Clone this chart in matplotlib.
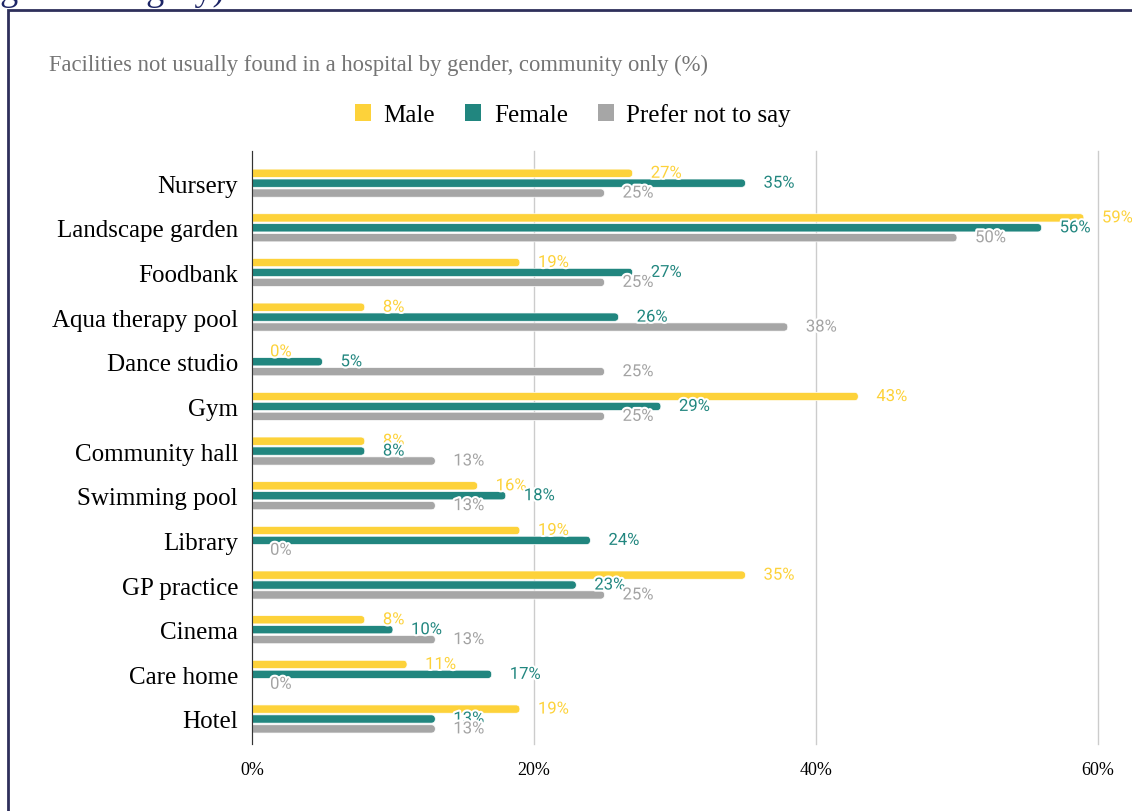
import numpy as np
import matplotlib
matplotlib.use("Agg")
from matplotlib import pyplot as plt
from matplotlib.patches import Patch, Rectangle, FancyBboxPatch
import matplotlib.patheffects as pe

# facilities, top to bottom
facilities = ["Nursery", "Landscape garden", "Foodbank", "Aqua therapy pool",
              "Dance studio", "Gym", "Community hall", "Swimming pool",
              "Library", "GP practice", "Cinema", "Care home", "Hotel"]

# share of respondents (%) per gender
male = [27, 59, 19, 8, 0, 43, 8, 16, 19, 35, 8, 11, 19]
female = [35, 56, 27, 26, 5, 29, 8, 18, 24, 23, 10, 17, 13]
no_say = [25, 50, 25, 38, 25, 25, 13, 13, 0, 25, 13, 0, 13]

series_names = ["Male", "Female", "Prefer not to say"]
bar_colors = ["#fdd23a", "#21867f", "#a6a6a6"]
text_colors = ["#fdd23a", "#21867f", "#a3a3a3"]
xticks = [0, 20, 40, 60]

W, H = 1132, 812
fig = plt.figure(figsize=(W / 100, H / 100), dpi=100)

serif = "Liberation Serif"

# cut-off heading above the box
fig.text(-28 / W, 1.0, "ing and category)", family=serif, fontsize=26,
         color="#1d2566", va="baseline", ha="left")

# frame round the chart
fig.patches.append(Rectangle((8 / W, -0.05), 1.2, 1 - 11 / H + 0.05,
                             transform=fig.transFigure, fill=False,
                             edgecolor="#2e2f5b", linewidth=2))

fig.text(49 / W, 1 - 65 / H,
         "Facilities not usually found in a hospital by gender, community only (%)",
         family=serif, fontsize=16.3, color="#757575", va="center", ha="left")

handles = [Patch(facecolor=c, edgecolor="none") for c in bar_colors]
fig.legend(handles, series_names, loc="center", bbox_to_anchor=(573 / W, 1 - 116 / H),
           ncol=3, frameon=False, prop={"family": serif, "size": 18},
           handlelength=0.64, handleheight=0.64, handletextpad=0.5,
           columnspacing=1.2)

ax = fig.add_axes([252 / W, 1 - 745 / H, (1098 - 252) / W, (745 - 152) / H])
ax.set_xlim(0, 60)
ax.set_ylim(len(facilities) - 0.44, -0.72)

y = np.arange(len(facilities))
step = 0.222
hgt = 0.185
# rounded right ends: radius in x units, y squeezed by the axes aspect
rad = 0.28
aspect = (hgt / 2) / rad
all_vals = [male, female, no_say]
for i, vals in enumerate(all_vals):
    pos = y + (i - 1) * step
    for yy, v in zip(pos, vals):
        if v > 0:
            # left corners start behind the axis and get clipped away
            bar = FancyBboxPatch((-rad, yy - hgt / 2), v + rad, hgt,
                                 boxstyle=f"round,pad=0,rounding_size={rad}",
                                 mutation_aspect=aspect, facecolor=bar_colors[i],
                                 edgecolor="white", linewidth=0.5, zorder=3)
            ax.add_patch(bar)
        ax.annotate(f"{v}%", xy=(v, yy), xytext=(13, 0), textcoords="offset points",
                    ha="left", va="center", fontsize=12, family="Roboto",
                    color=text_colors[i], annotation_clip=False, zorder=5,
                    path_effects=[pe.withStroke(linewidth=3, foreground="white")])

ax.set_xticks(xticks)
ax.set_xticklabels([f"{t}%" for t in xticks], family=serif, fontsize=13)
ax.set_yticks(y)
ax.set_yticklabels(facilities, family=serif, fontsize=18)
ax.tick_params(axis="both", length=0)
ax.tick_params(axis="y", pad=10)
ax.tick_params(axis="x", pad=12)
ax.grid(axis="x", color="#cccccc", linewidth=1, zorder=0)
for line in ax.get_xgridlines():
    line.set_clip_on(False)
for s in ["top", "right", "bottom"]:
    ax.spines[s].set_visible(False)
ax.spines["left"].set_color("#333333")
ax.spines["left"].set_zorder(4)

fig.savefig("out.png", dpi=100)
